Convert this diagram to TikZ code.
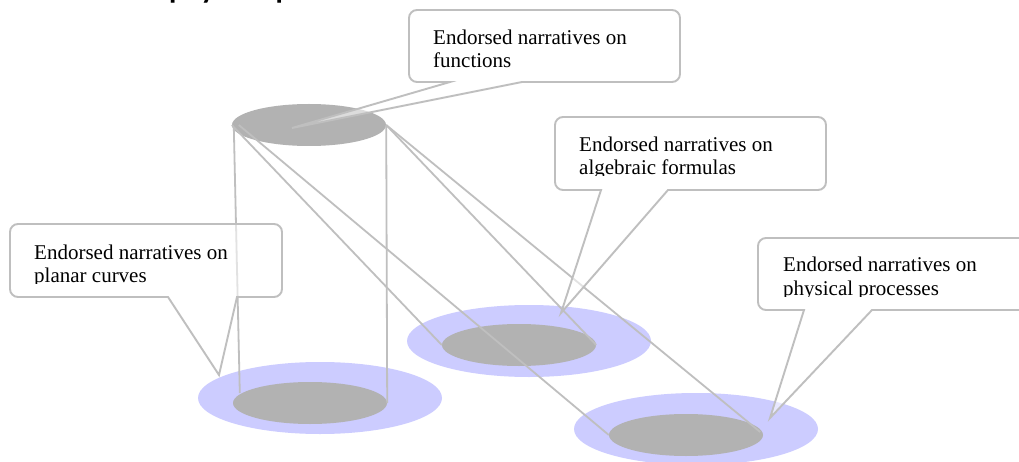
\documentclass[tikz,border=0pt]{standalone}
\usepackage{fontspec}
\setmainfont{Liberation Serif}
\newfontfamily\headfont{Carlito}
\usetikzlibrary{shapes.geometric,calc}
\definecolor{lav}{HTML}{CCCCFF}
\definecolor{disc}{HTML}{B2B2B2}
\definecolor{cgray}{HTML}{BFBFBF}
\tikzset{
  halo/.style={ellipse, fill=lav, draw=none, minimum width=244pt, minimum height=72pt, inner sep=0pt},
  disk/.style={ellipse, fill=disc, draw=none, minimum width=154pt, minimum height=42pt, inner sep=0pt},
  link/.style={draw=cgray, line width=1.8pt},
  callout/.style={draw=cgray, line width=1.9pt, fill=white, fill opacity=0.55},
  lbl/.style={anchor=base west, inner sep=0pt, font=\fontsize{21}{24}\selectfont, text=black}
}
\begin{document}
\begin{tikzpicture}[x=1pt,y=-1pt]
\useasboundingbox (0,0) rectangle (1019,462);
\clip (0,0) rectangle (1019,462);
\fill[white] (0,0) rectangle (1019,462);

% cropped heading fragment
\node[anchor=base west, inner sep=0pt, font=\headfont\bfseries\fontsize{30}{36}\selectfont] (head) at (169,-1.5) {physical processes};

% halos and discs
\node[halo] (blH) at (320,398) {};
\node[halo] (midH) at (529,341) {};
\node[halo] (brH) at (696,429) {};
\node[disk] (topE) at (309,125) {};
\node[disk] (blE) at (310,403) {};
\node[disk] (midE) at (519,345) {};
\node[disk] (brE) at (686,435) {};

% cylinder and projection lines
\draw[link] ($(topE.west)+(2,2)$) -- ($(blE.west)+(7,-10)$);
\draw[link] (topE.east) -- (blE.east);
\draw[link] (topE.west) -- (midE.west);
\draw[link] ($(topE.west)+(7,0)$) -- (brE.west);
\draw[link] (topE.east) -- (midE.east);
\draw[link] (topE.east) -- ($(brE.east)+(-3,-3)$);

% callouts
\path[callout] (450,82) -- (430,82) [rounded corners=8pt] -- (409,82) -- (409,10) -- (680,10) -- (680,82) -- (660,82) [sharp corners] -- (522,82) -- (292,128) -- cycle;
\path[callout] (168,297) -- (150,297) [rounded corners=8pt] -- (10,297) -- (10,224) -- (282,224) -- (282,297) -- (262,297) [sharp corners] -- (237,297) -- (219,375) -- cycle;
\path[callout] (601,190) -- (585,190) [rounded corners=8pt] -- (555,190) -- (555,117) -- (826,117) -- (826,190) -- (806,190) [sharp corners] -- (668,190) -- (561,313) -- cycle;
\path[callout] (804,310) -- (785,310) [rounded corners=8pt] -- (758,310) -- (758,238) -- (1040,238) -- (1040,310) -- (1020,310) [sharp corners] -- (872,310) -- (770,418) -- cycle;

% callout texts (clipped at the bottom as in the reference)
\node[lbl] (funA) at (433,45) {Endorsed narratives on};
\node[lbl] (funB) at (433,68) {functions};
\begin{scope}
  \clip (10,224) rectangle (282,283);
  \node[lbl] (plaA) at (34,259) {Endorsed narratives on};
  \node[lbl] (plaB) at (34,282) {planar curves};
\end{scope}
\begin{scope}
  \clip (555,117) rectangle (826,176);
  \node[lbl] (algA) at (579,152) {Endorsed narratives on};
  \node[lbl] (algB) at (579,175) {algebraic formulas};
\end{scope}
\begin{scope}
  \clip (758,238) rectangle (1019,296);
  \node[lbl] (phyA) at (783,272) {Endorsed narratives on};
  \node[lbl] (phyB) at (783,295) {physical processes};
\end{scope}
\end{tikzpicture}
\end{document}
